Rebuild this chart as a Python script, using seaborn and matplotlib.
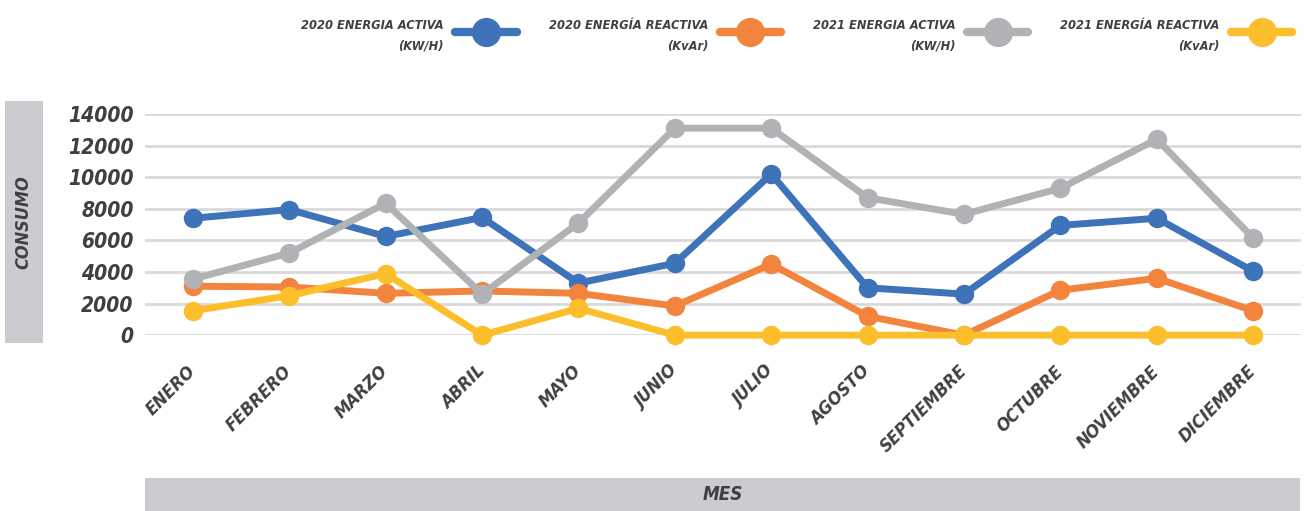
"""Consumo mensual de energía 2020-2021: líneas con marcadores."""

import matplotlib
matplotlib.use("Agg")
import matplotlib.pyplot as plt
import pandas as pd
import seaborn as sns
from matplotlib.patches import Rectangle

MESES = ["ENERO", "FEBRERO", "MARZO", "ABRIL", "MAYO", "JUNIO", "JULIO",
         "AGOSTO", "SEPTIEMBRE", "OCTUBRE", "NOVIEMBRE", "DICIEMBRE"]

SERIES = ["2020 ENERGIA ACTIVA\n(KW/H)", "2020 ENERGÍA REACTIVA\n(KvAr)",
          "2021 ENERGIA ACTIVA\n(KW/H)", "2021 ENERGÍA REACTIVA\n(KvAr)"]

activa_2020 = [7400, 7950, 6250, 7450, 3300, 4550, 10200, 3000, 2600, 6950, 7400, 4050]
reactiva_2020 = [3100, 3050, 2650, 2800, 2650, 1850, 4500, 1200, 0, 2850, 3600, 1550]
activa_2021 = [3550, 5200, 8350, 2600, 7100, 13100, 13100, 8700, 7650, 9300, 12400, 6150]
reactiva_2021 = [1550, 2500, 3900, 0, 1700, 0, 0, 0, 0, 0, 0, 0]

COLORES = ["#3E72B9", "#F2843E", "#B1B2B5", "#FDBE2B"]
TEXTO = "#404040"
CAJA = "#CBCCCF"
FUENTE = ["Liberation Sans Narrow", "DejaVu Sans"]


def main() -> None:
    sns.set_theme(style="white")
    plt.rcParams["font.family"] = FUENTE
    plt.rcParams["font.stretch"] = "condensed"

    df = pd.DataFrame({
        "MES": MESES * 4,
        "CONSUMO": activa_2020 + reactiva_2020 + activa_2021 + reactiva_2021,
        "SERIE": [s for s in SERIES for _ in MESES],
    })
    df["MES"] = pd.Categorical(df["MES"], categories=MESES, ordered=True)
    df["POS"] = df["MES"].cat.codes

    fig = plt.figure(figsize=(13.04, 5.11), dpi=100)
    ax = fig.add_axes([0.111, 0.344, 0.887, 0.433])

    sns.lineplot(data=df, x="POS", y="CONSUMO", hue="SERIE", hue_order=SERIES,
                 palette=COLORES, marker="o", markersize=14, markeredgewidth=0,
                 linewidth=5, ax=ax, clip_on=False, zorder=3)

    ax.set_xlim(-0.5, 11.5)
    ax.set_ylim(0, 14000)
    ax.set_yticks(range(0, 14001, 2000))
    ax.set_xticks(range(len(MESES)))
    ax.set_xticklabels(MESES)
    ax.yaxis.grid(True, color="#D9D9D9", linewidth=2)
    ax.xaxis.grid(False)
    ax.set_axisbelow(True)
    for sp in ax.spines.values():
        sp.set_visible(False)
    ax.set_xlabel("")
    ax.set_ylabel("")

    ax.tick_params(axis="y", length=0, pad=8, labelsize=15, labelcolor=TEXTO)
    ax.tick_params(axis="x", length=0, pad=24, labelsize=13, labelcolor=TEXTO)
    for t in ax.get_yticklabels():
        t.set_fontweight("bold")
        t.set_fontstyle("italic")
    for t in ax.get_xticklabels():
        t.set_fontweight("bold")
        t.set_fontstyle("italic")
        t.set_rotation(45)
        t.set_ha("right")
        t.set_va("center")
        t.set_rotation_mode("anchor")

    handles, labels = ax.get_legend_handles_labels()
    ax.get_legend().remove()
    leg = fig.legend(handles, labels, loc="upper right", bbox_to_anchor=(1.0, 0.985),
                     ncol=4, frameon=False, markerfirst=False, handlelength=4.8,
                     handleheight=2.8, handletextpad=0.9, columnspacing=2.5,
                     prop={"size": 9.2, "weight": "bold", "style": "italic",
                           "stretch": "condensed"})
    for t in leg.get_texts():
        t.set_color(TEXTO)
        t.set_multialignment("right")
        t.set_linespacing(1.75)
    for h in leg.legend_handles:
        h.set_markersize(21)
        h.set_linewidth(6)

    # cajas grises de los títulos de eje
    fig.patches.append(Rectangle((0.0038, 0.329), 0.029, 0.474, transform=fig.transFigure,
                                 facecolor=CAJA, edgecolor="none", zorder=0))
    fig.patches.append(Rectangle((0.111, 0.0), 0.886, 0.0646, transform=fig.transFigure,
                                 facecolor=CAJA, edgecolor="none", zorder=0))
    fig.text(0.0183, 0.566, "CONSUMO", rotation=90, ha="center", va="center",
             fontsize=13, fontweight="bold", fontstyle="italic", color=TEXTO)
    fig.text(0.554, 0.033, "MES", ha="center", va="center",
             fontsize=13.5, fontweight="bold", fontstyle="italic", color=TEXTO)

    fig.savefig("out.png", dpi=100)
    plt.close(fig)


if __name__ == "__main__":
    main()
